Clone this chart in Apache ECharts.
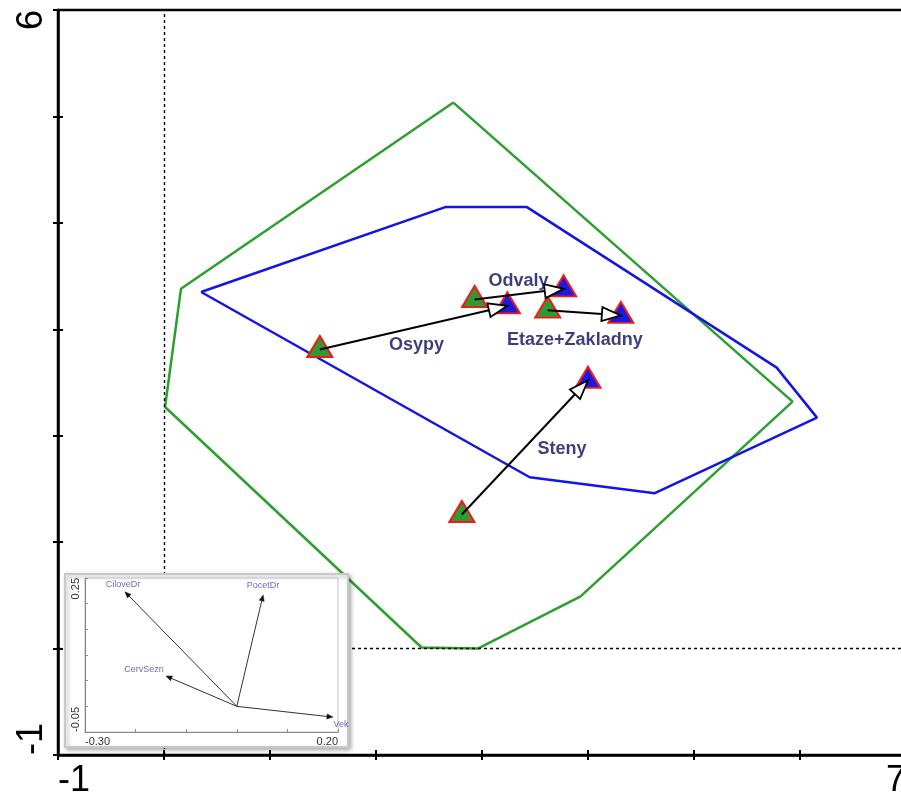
<!DOCTYPE html>
<html>
<head>
<meta charset="utf-8">
<title>Ordination diagram</title>
<script src="https://cdn.jsdelivr.net/npm/echarts@6/dist/echarts.min.js"></script>
<style>
  html, body { margin: 0; padding: 0; background: #fff; }
  #chart { width: 901px; height: 801px; }
</style>
</head>
<body>
<div id="chart"></div>
<script>
// Envelope of the sample scores before (green) and after (blue)
const greenHullX = [2.73, 0.16, 0.01, 2.43, 2.96, 3.93, 5.93, 2.73];
const greenHullY = [5.13, 3.38, 2.27, 0.01, 0.00, 0.49, 2.32, 5.13];
const blueHullX = [0.35, 2.66, 3.42, 5.78, 6.16, 4.63, 3.45, 0.35];
const blueHullY = [3.35, 4.15, 4.15, 2.64, 2.17, 1.46, 1.61, 3.35];

// Group centroids: start (green) and end (blue) of each shift
const groups = ['Osypy', 'Odvaly', 'Etaze+Zakladny', 'Steny'];
const startX = [1.47, 2.93, 3.62, 2.81];
const startY = [2.81, 3.28, 3.18, 1.26];
const endX = [3.24, 3.77, 4.31, 4.00];
const endY = [3.22, 3.38, 3.13, 2.52];

// Main axis tick labels (only the extremes are printed)
const mainXTicks = [-1, 7];
const mainYTicks = [-1, 6];

// Environmental variable vectors for the small biplot
const envNames = ['CiloveDr', 'PocetDr', 'CervSezn', 'Vek'];
const envX = [-0.221, 0.052, -0.140, 0.190];
const envY = [0.223, 0.217, 0.059, -0.021];
const insetXTicks = [-0.30, 0.20];
const insetYTicks = [-0.05, 0.25];

const FONT = "'Liberation Sans', Arial, sans-serif";
const near = (a, b) => Math.abs(a - b) < 1e-9;

// pixel offsets of the group names relative to the end centroid
const groupLabelOffset = [[-91, 39], [-45, -8], [-46, 25], [-26, 69]];
// pixel offsets of the variable names relative to the vector tip
const envLabelOffset = [[-2, -7], [0, -9], [-22, -7], [8, 7]];

const chart = echarts.init(document.getElementById('chart'), null, { renderer: 'canvas' });

function hull(xs, ys) { return xs.map((x, i) => [x, ys[i]]); }

function arrowRender(params, api) {
  const p0 = api.coord([api.value(0), api.value(1)]);
  const p1 = api.coord([api.value(2), api.value(3)]);
  const dx = p1[0] - p0[0], dy = p1[1] - p0[1];
  const len = Math.hypot(dx, dy) || 1;
  const ux = dx / len, uy = dy / len, nx = -uy, ny = ux;
  const headLen = 19, headHalf = 7;
  const bx = p1[0] - ux * headLen, by = p1[1] - uy * headLen;
  return {
    type: 'group',
    children: [
      { type: 'line', shape: { x1: p0[0], y1: p0[1], x2: bx, y2: by },
        style: { stroke: '#000', lineWidth: 2 } },
      { type: 'polygon',
        shape: { points: [[p1[0], p1[1]], [bx + nx * headHalf, by + ny * headHalf], [bx - nx * headHalf, by - ny * headHalf]] },
        style: { fill: '#fff', stroke: '#000', lineWidth: 1.8 } }
    ]
  };
}

function vectorRender(params, api) {
  const p0 = api.coord([0, 0]);
  const p1 = api.coord([api.value(0), api.value(1)]);
  const dx = p1[0] - p0[0], dy = p1[1] - p0[1];
  const len = Math.hypot(dx, dy) || 1;
  const ux = dx / len, uy = dy / len, nx = -uy, ny = ux;
  const headLen = 6, headHalf = 2.5;
  const bx = p1[0] - ux * headLen, by = p1[1] - uy * headLen;
  return {
    type: 'group',
    children: [
      { type: 'line', shape: { x1: p0[0], y1: p0[1], x2: bx, y2: by },
        style: { stroke: '#333', lineWidth: 1 } },
      { type: 'polygon',
        shape: { points: [[p1[0], p1[1]], [bx + nx * headHalf, by + ny * headHalf], [bx - nx * headHalf, by - ny * headHalf]] },
        style: { fill: '#111', stroke: '#111', lineWidth: 0.5 } }
    ]
  };
}

const mainLabel = {
  fontFamily: FONT, fontSize: 36, color: '#000', margin: 8
};

const option = {
  animation: false,
  backgroundColor: '#fff',
  grid: [
    { left: 58, top: 10, width: 848, height: 745, show: true, borderColor: '#000', borderWidth: 2.5,
      backgroundColor: 'transparent', outerBoundsMode: 'none', containLabel: false },
    { left: 85, top: 578, width: 253, height: 154, show: true, borderColor: '#c4c4c4', borderWidth: 1,
      backgroundColor: 'transparent', z: 55, outerBoundsMode: 'none', containLabel: false }
  ],
  xAxis: [
    { type: 'value', gridIndex: 0, min: -1, max: 7, interval: 1, position: 'bottom',
      axisLine: { onZero: false, lineStyle: { color: '#000', width: 2.5 } },
      axisTick: { inside: true, length: 5, lineStyle: { color: '#000', width: 2 } },
      splitLine: { show: false },
      axisLabel: Object.assign({}, mainLabel, {
        alignMinLabel: 'left', alignMaxLabel: 'right',
        formatter: v => mainXTicks.some(t => near(t, v)) ? String(v) : ''
      }) },
    { type: 'value', gridIndex: 0, min: -1, max: 7, interval: 1, position: 'bottom',
      axisLine: { show: false, onZero: false },
      axisTick: { inside: false, length: 5, lineStyle: { color: '#000', width: 2 } },
      axisLabel: { show: false }, splitLine: { show: false } },
    { type: 'value', gridIndex: 1, min: -0.3, max: 0.2, interval: 0.1, position: 'bottom', z: 56,
      axisLine: { onZero: false, lineStyle: { color: '#8a8a8a', width: 1.2 } },
      axisTick: { inside: true, length: 3, lineStyle: { color: '#8a8a8a' } },
      splitLine: { show: false },
      axisLabel: { fontFamily: FONT, fontSize: 11, color: '#333', margin: 4,
        alignMinLabel: 'left', alignMaxLabel: 'right',
        formatter: v => insetXTicks.some(t => near(t, v)) ? v.toFixed(2) : '' } }
  ],
  yAxis: [
    { type: 'value', gridIndex: 0, min: -1, max: 6, interval: 1, position: 'left',
      axisLine: { onZero: false, lineStyle: { color: '#000', width: 2.5 } },
      axisTick: { inside: true, length: 5, lineStyle: { color: '#000', width: 2 } },
      splitLine: { show: false },
      axisLabel: Object.assign({}, mainLabel, {
        rotate: 90, alignMinLabel: 'left', alignMaxLabel: 'right',
        formatter: v => mainYTicks.some(t => near(t, v)) ? String(v) : ''
      }) },
    { type: 'value', gridIndex: 0, min: -1, max: 6, interval: 1, position: 'left',
      axisLine: { show: false, onZero: false },
      axisTick: { inside: false, length: 5, lineStyle: { color: '#000', width: 2 } },
      axisLabel: { show: false }, splitLine: { show: false } },
    { type: 'value', gridIndex: 1, min: -0.05, max: 0.25, interval: 0.05, position: 'left', z: 56,
      axisLine: { onZero: false, lineStyle: { color: '#8a8a8a', width: 1.2 } },
      axisTick: { inside: true, length: 3, lineStyle: { color: '#8a8a8a' } },
      splitLine: { show: false },
      axisLabel: { fontFamily: FONT, fontSize: 11, color: '#333', margin: 4, rotate: 90,
        alignMinLabel: 'left', alignMaxLabel: 'right',
        formatter: v => insetYTicks.some(t => near(t, v)) ? v.toFixed(2) : '' } }
  ],
  graphic: [
    { type: 'rect', z: 50, shape: { x: 65, y: 574, width: 283, height: 173 },
      style: { fill: '#fff', stroke: '#c8c8c8', lineWidth: 2,
        shadowBlur: 4, shadowColor: 'rgba(0,0,0,0.3)', shadowOffsetX: 2, shadowOffsetY: 2 } }
  ],
  series: [
    { type: 'line', xAxisIndex: 0, yAxisIndex: 0, data: hull(greenHullX, greenHullY),
      showSymbol: false, silent: true, lineStyle: { color: '#2ca02c', width: 2.5 }, z: 2,
      markLine: { silent: true, symbol: 'none', label: { show: false },
        lineStyle: { color: '#000', type: [3, 3], width: 1.4 },
        data: [{ xAxis: 0 }, { yAxis: 0 }] } },
    { type: 'line', xAxisIndex: 0, yAxisIndex: 0, data: hull(blueHullX, blueHullY),
      showSymbol: false, silent: true, lineStyle: { color: '#1414e6', width: 2.5 }, z: 2 },
    { type: 'scatter', xAxisIndex: 0, yAxisIndex: 0, data: hull(startX, startY),
      symbol: 'triangle', symbolSize: [25, 21], symbolOffset: [0, -3], z: 3,
      itemStyle: { color: '#2f9a2f', borderColor: '#ee1c1c', borderWidth: 2, opacity: 1 } },
    { type: 'scatter', xAxisIndex: 0, yAxisIndex: 0, data: hull(endX, endY),
      symbol: 'triangle', symbolSize: [25, 21], symbolOffset: [0, -3], z: 3,
      itemStyle: { color: '#1a1ae0', borderColor: '#ee1c1c', borderWidth: 2, opacity: 1 } },
    { type: 'custom', xAxisIndex: 0, yAxisIndex: 0, z: 4,
      data: groups.map((g, i) => [startX[i], startY[i], endX[i], endY[i]]),
      renderItem: arrowRender },
    { type: 'scatter', xAxisIndex: 0, yAxisIndex: 0, z: 5, symbolSize: 0, silent: true,
      data: groups.map((g, i) => ({
        value: [endX[i], endY[i]], name: g,
        label: { show: true, position: 'inside', offset: groupLabelOffset[i], formatter: g,
          fontFamily: FONT, fontSize: 18, fontWeight: 'bold', color: '#0c0c5a' }
      })) },
    // small biplot of environmental variables
    { type: 'custom', xAxisIndex: 2, yAxisIndex: 2, z: 60,
      data: envNames.map((n, i) => [envX[i], envY[i]]),
      renderItem: vectorRender,
      markLine: { silent: true, symbol: 'none', label: { show: false },
        lineStyle: { color: '#cfcfcf', type: 'solid', width: 1 },
        data: [{ xAxis: 0 }, { yAxis: 0 }] } },
    { type: 'scatter', xAxisIndex: 2, yAxisIndex: 2, z: 61, symbolSize: 0, silent: true,
      data: envNames.map((n, i) => ({
        value: [envX[i], envY[i]], name: n,
        label: { show: true, position: 'inside', offset: envLabelOffset[i], formatter: n,
          fontFamily: FONT, fontSize: 9, color: '#4646a6' }
      })) }
  ]
};

chart.setOption(option);
</script>
</body>
</html>
